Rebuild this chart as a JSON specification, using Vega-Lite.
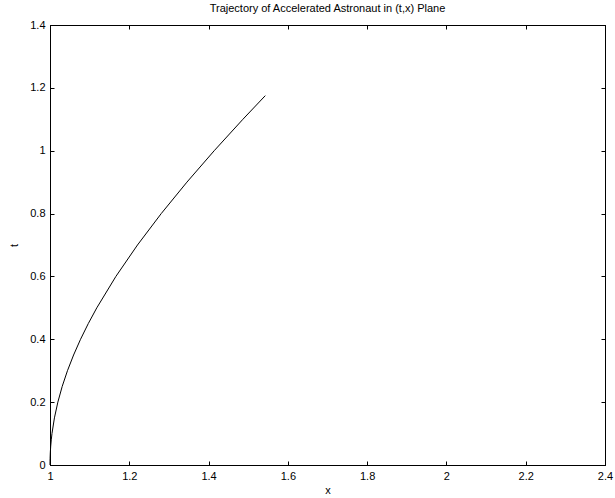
{
  "$schema": "https://vega.github.io/schema/vega-lite/v6.json",
  "width": 555,
  "height": 440,
  "autosize": {"type": "none"},
  "padding": {"left": 50, "top": 25, "right": 10, "bottom": 33},
  "background": "white",
  "title": {"text": "Trajectory of Accelerated Astronaut in (t,x) Plane", "font": "Liberation Sans", "fontSize": 11, "fontWeight": "normal", "color": "black", "offset": 5},
  "config": {
    "view": {"stroke": "black", "strokeWidth": 1},
    "axis": {"domainColor": "black", "tickColor": "black", "labelColor": "black", "titleColor": "black", "labelFont": "Liberation Sans", "titleFont": "Liberation Sans", "labelFontSize": 11, "titleFontSize": 11, "titleFontWeight": "normal", "grid": false, "tickSize": -4, "domainWidth": 1, "tickWidth": 1}
  },
  "data": {"values": [
    {"t": 0, "x": 1},
    {"t": 0.01, "x": 1.00005},
    {"t": 0.02, "x": 1.0002},
    {"t": 0.04, "x": 1.0008},
    {"t": 0.06, "x": 1.0018},
    {"t": 0.08, "x": 1.0032},
    {"t": 0.1, "x": 1.00499},
    {"t": 0.15, "x": 1.01119},
    {"t": 0.2, "x": 1.0198},
    {"t": 0.25, "x": 1.03078},
    {"t": 0.3, "x": 1.04403},
    {"t": 0.35, "x": 1.05948},
    {"t": 0.4, "x": 1.07703},
    {"t": 0.45, "x": 1.09659},
    {"t": 0.5, "x": 1.11803},
    {"t": 0.6, "x": 1.16619},
    {"t": 0.7, "x": 1.22066},
    {"t": 0.8, "x": 1.28062},
    {"t": 0.9, "x": 1.34536},
    {"t": 1.0, "x": 1.41421},
    {"t": 1.1, "x": 1.48661},
    {"t": 1.1752, "x": 1.54308}
  ]},
  "resolve": {"axis": {"x": "independent", "y": "independent"}},
  "layer": [
    {
      "mark": {"type": "line", "color": "black", "strokeWidth": 1},
      "encoding": {
        "x": {"field": "x", "type": "quantitative", "scale": {"domain": [1, 2.4], "nice": false, "zero": false}, "axis": {"title": "x", "values": [1, 1.2, 1.4, 1.6, 1.8, 2, 2.2, 2.4], "format": "~g", "labelPadding": 9, "titlePadding": 3, "labelFlush": false, "labelOverlap": false}},
        "y": {"field": "t", "type": "quantitative", "scale": {"domain": [0, 1.4], "nice": false}, "axis": {"title": "t", "values": [0, 0.2, 0.4, 0.6, 0.8, 1, 1.2, 1.4], "format": "~g", "labelPadding": 9, "titlePadding": 10, "labelFlush": false, "labelOverlap": false}},
        "order": {"field": "t", "type": "quantitative"}
      }
    },
    {
      "mark": {"type": "line", "color": "black", "strokeWidth": 1, "strokeOpacity": 0},
      "encoding": {
        "x": {"field": "x", "type": "quantitative", "axis": {"orient": "top", "labels": false, "title": null, "values": [1, 1.2, 1.4, 1.6, 1.8, 2, 2.2, 2.4]}},
        "y": {"field": "t", "type": "quantitative", "axis": {"orient": "right", "labels": false, "title": null, "values": [0, 0.2, 0.4, 0.6, 0.8, 1, 1.2, 1.4]}},
        "order": {"field": "t", "type": "quantitative"}
      }
    }
  ]
}
